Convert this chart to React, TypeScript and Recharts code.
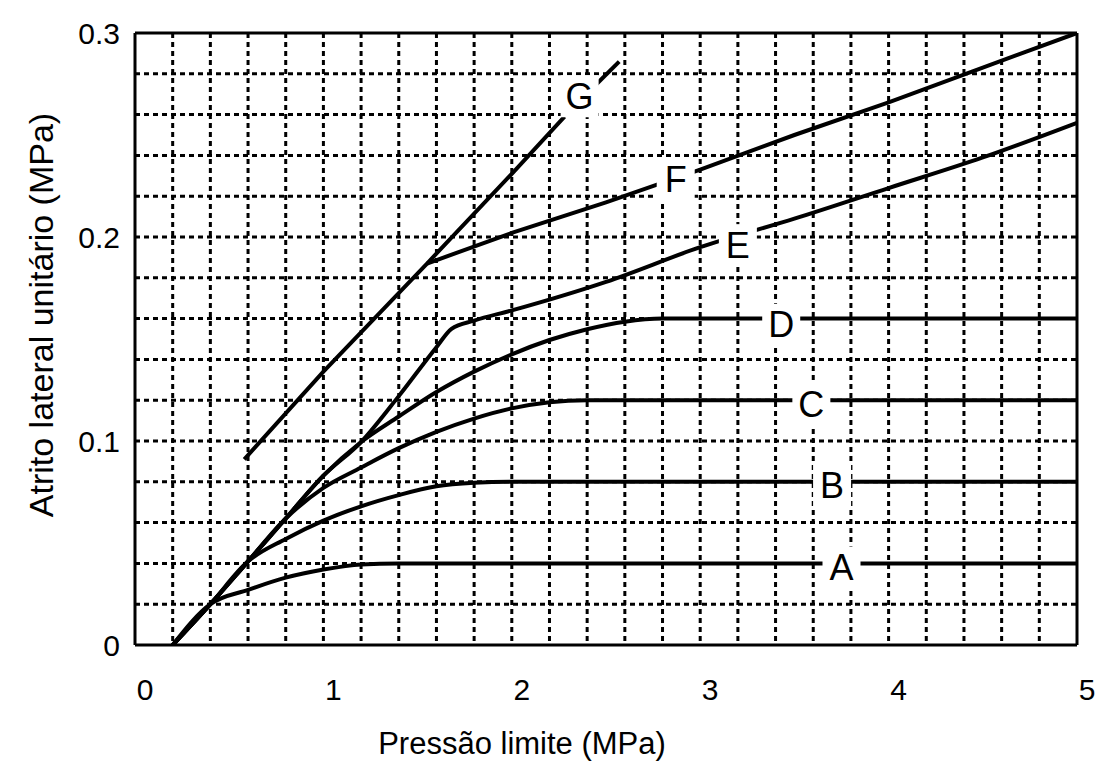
import React from "react"
import { LineChart, Line, XAxis, YAxis, CartesianGrid, ReferenceLine, ReferenceDot } from "recharts"

// pressão limite (MPa) ticks and atrito lateral (MPa) ticks
const pressureTicks = [0, 1, 2, 3, 4, 5]
const frictionTicks = [0, 0.1, 0.2, 0.3]

// dotted grid of the abacus
const gridPressure = [0.2, 0.4, 0.6, 0.8, 1, 1.2, 1.4, 1.6, 1.8, 2, 2.2, 2.4, 2.6, 2.8, 3, 3.2, 3.4, 3.6, 3.8, 4, 4.2, 4.4, 4.6, 4.8]
const gridFriction = [0.02, 0.04, 0.06, 0.08, 0.1, 0.12, 0.14, 0.16, 0.18, 0.2, 0.22, 0.24, 0.26, 0.28]

// curves: [pressão limite, atrito lateral]
const curveA = [[0.2, 0], [0.4, 0.02], [0.6, 0.027], [0.8, 0.033], [1.0, 0.037], [1.2, 0.0395], [1.4, 0.04], [5, 0.04]]
const curveB = [[0.2, 0], [0.4, 0.02], [0.6, 0.041], [0.8, 0.052], [1.0, 0.061], [1.2, 0.068], [1.4, 0.0735], [1.6, 0.0778], [1.8, 0.0795], [2.0, 0.08], [5, 0.08]]
const curveC = [[0.2, 0], [0.4, 0.02], [0.6, 0.041], [0.8, 0.062], [1.0, 0.077], [1.2, 0.087], [1.4, 0.0965], [1.6, 0.1045], [1.8, 0.111], [2.0, 0.116], [2.2, 0.119], [2.4, 0.12], [5, 0.12]]
const curveD = [[0.2, 0], [0.4, 0.02], [0.6, 0.041], [0.8, 0.062], [1.0, 0.083], [1.2, 0.0995], [1.4, 0.112], [1.6, 0.124], [1.8, 0.134], [2.0, 0.1425], [2.2, 0.1495], [2.4, 0.1548], [2.6, 0.1585], [2.8, 0.16], [5, 0.16]]
const curveE = [[0.2, 0], [0.4, 0.02], [0.6, 0.041], [0.8, 0.062], [1.0, 0.083], [1.2, 0.0995], [1.4, 0.122], [1.6, 0.146], [1.68, 0.155], [1.8, 0.159], [2.0, 0.164], [2.5, 0.178], [3.0, 0.195], [3.5, 0.209], [4.0, 0.224], [4.5, 0.239], [5.0, 0.256]]
const curveF = [[1.55, 0.187], [2.0, 0.202], [2.5, 0.217], [3.0, 0.233], [3.5, 0.25], [4.0, 0.266], [4.5, 0.283], [5.0, 0.3]]
const curveG = [[0.58, 0.091], [1.0, 0.134], [1.55, 0.187], [2.0, 0.231], [2.28, 0.259]]
const curveGTail = [[2.45, 0.275], [2.57, 0.286]]

// curve letters
const labelNames = ["A", "B", "C", "D", "E", "F", "G"]
const labelPressure = [3.75, 3.7, 3.59, 3.43, 3.2, 2.87, 2.36]
const labelFriction = [0.038, 0.078, 0.118, 0.157, 0.196, 0.228, 0.269]

const series = [
  { name: "A", points: curveA, type: "monotone" },
  { name: "B", points: curveB, type: "monotone" },
  { name: "C", points: curveC, type: "monotone" },
  { name: "D", points: curveD, type: "monotone" },
  { name: "E", points: curveE, type: "monotone" },
  { name: "F", points: curveF, type: "linear" },
  { name: "G", points: curveG, type: "linear" },
  { name: "G2", points: curveGTail, type: "linear" },
]

const toPoints = (pairs: number[][]) => pairs.map(([x, y]) => ({ x, y }))

const YTitle = () => (
  <text x={33} y={307} transform="rotate(-90 33 307)" textAnchor="middle" dominantBaseline="central" fontSize={34} fill="#000">
    Atrito lateral unitário (MPa)
  </text>
)

const XTitle = () => (
  <text x={514} y={735} textAnchor="middle" dominantBaseline="central" fontSize={31} fill="#000">
    Pressão limite (MPa)
  </text>
)

const letterShape = (name: string) => (props: any) => {
  const { cx, cy } = props
  return (
    <g>
      <rect x={cx - 19} y={cy - 21} width={38} height={42} fill="#fff" />
      <text x={cx} y={cy} textAnchor="middle" dominantBaseline="central" fontSize={36} fill="#000">
        {name}
      </text>
    </g>
  )
}

export default function App() {
  return (
    <div style={{ fontFamily: "'Liberation Sans', Arial, sans-serif", background: "#fff" }}>
      <LineChart width={1097} height={756} margin={{ top: 25, right: 28, left: 67, bottom: 59 }}>
        <CartesianGrid
          stroke="#000"
          strokeWidth={3}
          strokeDasharray="5 4"
          verticalValues={gridPressure}
          horizontalValues={gridFriction}
        />
        <XAxis
          type="number"
          dataKey="x"
          domain={[0, 5]}
          ticks={pressureTicks}
          allowDataOverflow
          height={60}
          tickLine={false}
          tickMargin={28}
          axisLine={{ stroke: "#000", strokeWidth: 3 }}
          tick={{ fontSize: 30, fill: "#000", dx: 10 }}
          label={{ content: <XTitle /> }}
        />
        <YAxis
          type="number"
          domain={[0, 0.3]}
          ticks={frictionTicks}
          allowDataOverflow
          width={60}
          tickLine={false}
          tickMargin={9}
          axisLine={{ stroke: "#000", strokeWidth: 3 }}
          tick={{ fontSize: 30, fill: "#000" }}
          label={{ content: <YTitle /> }}
        />
        <ReferenceLine y={0.3} stroke="#000" strokeWidth={3} />
        <ReferenceLine x={5} stroke="#000" strokeWidth={3} />
        {series.map((s) => (
          <Line
            key={s.name}
            data={toPoints(s.points)}
            dataKey="y"
            type={s.type as any}
            stroke="#000"
            strokeWidth={4}
            dot={false}
            activeDot={false}
            isAnimationActive={false}
          />
        ))}
        {labelNames.map((name, i) => (
          <ReferenceDot
            key={name}
            x={labelPressure[i]}
            y={labelFriction[i]}
            r={18}
            shape={letterShape(name)}
          />
        ))}
      </LineChart>
    </div>
  )
}
